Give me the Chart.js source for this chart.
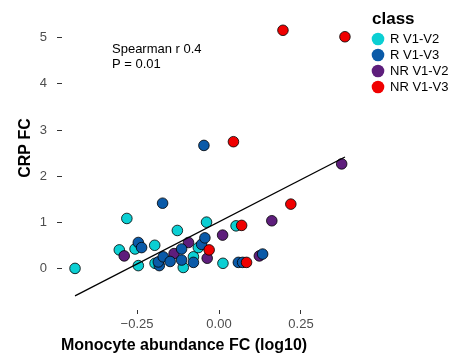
<!DOCTYPE html>
<html>
<head>
<meta charset="utf-8">
<script src="https://cdn.jsdelivr.net/npm/chart.js@4.4.1/dist/chart.umd.min.js"></script>
<style>
  html, body { margin: 0; padding: 0; background: #fff; }
</style>
</head>
<body>
<canvas id="chart" width="455" height="354"></canvas>
<script>
// Points per class (x = log10 FC, y = CRP FC)
const rV1V2 = [
    { x: -0.439, y: 0.01 }, { x: -0.281, y: 1.09 }, { x: -0.304, y: 0.41 },
    { x: -0.256, y: 0.43 }, { x: -0.246, y: 0.07 }, { x: -0.196, y: 0.51 },
    { x: -0.195, y: 0.12 }, { x: -0.127, y: 0.83 }, { x: -0.038, y: 1.01 },
    { x: -0.109, y: 0.03 }, { x: -0.078, y: 0.26 }, { x: -0.063, y: 0.46 },
    { x: 0.012, y: 0.12 }, { x: 0.052, y: 0.93 }
];
const rV1V3 = [
    { x: -0.172, y: 1.42 }, { x: -0.046, y: 2.67 }, { x: -0.246, y: 0.57 },
    { x: -0.236, y: 0.46 }, { x: -0.182, y: 0.07 }, { x: -0.185, y: 0.15 },
    { x: -0.170, y: 0.26 }, { x: -0.149, y: 0.16 }, { x: -0.114, y: 0.43 },
    { x: -0.114, y: 0.19 }, { x: -0.078, y: 0.14 }, { x: -0.053, y: 0.53 },
    { x: -0.043, y: 0.67 }, { x: 0.059, y: 0.14 }, { x: 0.072, y: 0.14 },
    { x: 0.133, y: 0.32 }
];
const nrV1V2 = [
    { x: -0.289, y: 0.28 }, { x: -0.137, y: 0.33 }, { x: -0.093, y: 0.57 },
    { x: -0.036, y: 0.23 }, { x: 0.011, y: 0.73 }, { x: 0.161, y: 1.04 },
    { x: 0.123, y: 0.28 }, { x: 0.374, y: 2.27 }
];
const nrV1V3 = [
    { x: 0.195, y: 5.16 }, { x: 0.384, y: 5.02 }, { x: 0.044, y: 2.75 },
    { x: -0.030, y: 0.41 }, { x: 0.069, y: 0.94 }, { x: 0.084, y: 0.14 },
    { x: 0.219, y: 1.40 }
];
// linear fit, spans the x range of the data
const fitLine = [{ x: -0.439, y: -0.585 }, { x: 0.384, y: 2.42 }];

const classNames = ['R V1-V2', 'R V1-V3', 'NR V1-V2', 'NR V1-V3'];
const classColors = ['#0BCFD3', '#0A5AA8', '#5E1E7C', '#F00000'];
const xTicks = [-0.25, 0, 0.25];
const yTicks = [0, 1, 2, 3, 4, 5];

const FONT = '"Liberation Sans", Arial, sans-serif';
const tickColor = '#4D4D4D';

function pointSet(label, data, color, order) {
    return {
        label: label,
        data: data,
        backgroundColor: color,
        borderColor: '#000000',
        borderWidth: 0.8,
        pointRadius: 5.3,
        pointHoverRadius: 5.3,
        order: order
    };
}

// titles, stats note and legend drawn on top
const textPlugin = {
    id: 'texts',
    afterDraw(chart) {
        const ctx = chart.ctx;
        ctx.save();
        ctx.fillStyle = '#000';
        ctx.textAlign = 'left';
        ctx.textBaseline = 'alphabetic';
        ctx.font = '13px ' + FONT;
        ctx.fillText('Spearman r 0.4', 112, 53);
        ctx.fillText('P = 0.01', 112, 68);

        ctx.font = 'bold 16px ' + FONT;
        ctx.textAlign = 'center';
        ctx.fillText('Monocyte abundance FC (log10)', 184, 349.5);

        ctx.save();
        ctx.translate(30, 148);
        ctx.rotate(-Math.PI / 2);
        ctx.fillText('CRP FC', 0, 0);
        ctx.restore();

        ctx.textAlign = 'left';
        ctx.font = 'bold 17px ' + FONT;
        ctx.fillText('class', 372, 24);
        ctx.font = '13px ' + FONT;
        ctx.textBaseline = 'middle';
        classNames.forEach((name, i) => {
            const cy = 39 + i * 16;
            ctx.beginPath();
            ctx.fillStyle = classColors[i];
            ctx.arc(378, cy, 6.3, 0, Math.PI * 2);
            ctx.fill();
            ctx.fillStyle = '#000';
            ctx.fillText(name, 390, cy + 0.5);
        });
        ctx.restore();
    }
};

new Chart(document.getElementById('chart'), {
    type: 'scatter',
    data: {
        datasets: [
            {
                type: 'line',
                label: 'fit',
                data: fitLine,
                borderColor: '#000000',
                borderWidth: 1.3,
                pointRadius: 0,
                fill: false,
                order: -1
            },
            pointSet(classNames[0], rV1V2, classColors[0], 4),
            pointSet(classNames[1], rV1V3, classColors[1], 2),
            pointSet(classNames[2], nrV1V2, classColors[2], 3),
            pointSet(classNames[3], nrV1V3, classColors[3], 1)
        ]
    },
    options: {
        responsive: false,
        animation: false,
        events: [],
        layout: { padding: { top: 14, right: 97, left: 0, bottom: 0 } },
        plugins: {
            legend: { display: false },
            tooltip: { enabled: false }
        },
        scales: {
            x: {
                type: 'linear',
                min: -0.4787,
                max: 0.4238,
                afterBuildTicks: s => { s.ticks = xTicks.map(v => ({ value: v })); },
                afterFit: s => { s.height = 44; },
                border: { display: false },
                grid: { drawOnChartArea: false, tickLength: 4, color: '#333333' },
                ticks: {
                    color: tickColor,
                    font: { family: FONT, size: 13 },
                    padding: 3,
                    maxRotation: 0,
                    autoSkip: false,
                    callback: v => (v < 0 ? '\u2212' : '') + Math.abs(v).toFixed(2)
                }
            },
            y: {
                type: 'linear',
                min: -0.89,
                max: 5.43,
                afterBuildTicks: s => { s.ticks = yTicks.map(v => ({ value: v })); },
                afterFit: s => { s.width = 62; },
                border: { display: false },
                grid: { drawOnChartArea: false, tickLength: 5, color: '#333333' },
                ticks: {
                    color: tickColor,
                    font: { family: FONT, size: 13 },
                    padding: 10,
                    autoSkip: false
                }
            }
        }
    },
    plugins: [textPlugin]
});
</script>
</body>
</html>
